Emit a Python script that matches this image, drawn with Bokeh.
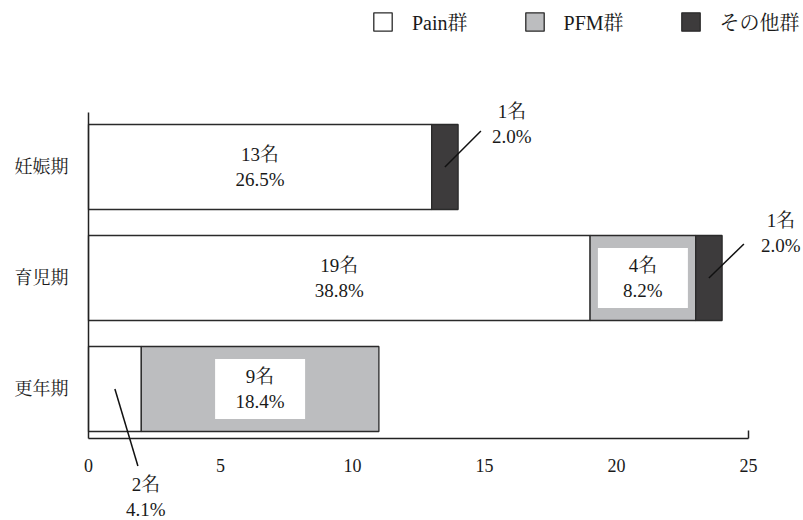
from bokeh.plotting import figure
from bokeh.models import (Range1d, FixedTicker, Legend, LegendItem, Label, Arrow,
                          ColumnDataSource)
from bokeh.core.properties import value
from bokeh.embed import file_html
from bokeh.resources import INLINE

# ---- data ----
categories = ["妊娠期", "育児期", "更年期"]
groups = ["Pain群", "PFM群", "その他群"]
pain_n = [13, 19, 2]
pfm_n = [0, 4, 9]
other_n = [1, 1, 0]
pain_pct = [26.5, 38.8, 4.1]
pfm_pct = [0.0, 8.2, 18.4]
other_pct = [2.0, 2.0, 0.0]
x_ticks = [0, 5, 10, 15, 20, 25]

# ---- style / geometry ----
FONT = "'Liberation Serif', 'Noto Serif CJK JP', 'Noto Sans CJK JP', serif"
fills = ["#ffffff", "#bcbdbf", "#3d3b3c"]
EDGE = "#2a2a2a"
W, H = 803, 520
# space (px) around the axes box; the plotting frame itself spans the whole
# canvas so that callout texts and leader lines may sit outside the axes
BL, BR, BT, BB = 88, 55, 112, 82
Y0, Y1 = -0.446, 2.491
BAR_H = 0.766

x_px = (W - BL - BR) / (x_ticks[-1] - x_ticks[0])
y_px = (H - BT - BB) / (Y1 - Y0)

x_range = Range1d(x_ticks[0] - BL / x_px, x_ticks[-1] + BR / x_px)
y_range = Range1d(Y0 - BB / y_px, Y1 + BT / y_px)

ypos = list(range(len(categories)))[::-1]  # first category on top

p = figure(width=W, height=H, output_backend="svg", toolbar_location=None,
           x_range=x_range, y_range=y_range,
           min_border_left=0, min_border_right=0,
           min_border_top=0, min_border_bottom=0)
p.outline_line_color = None
p.grid.visible = False
p.background_fill_color = "white"
p.border_fill_color = "white"

# ---- stacked bars ----
counts = [pain_n, pfm_n, other_n]
pcts = [pain_pct, pfm_pct, other_pct]
left = [0] * len(categories)
renderers = []
segments = []  # (category index, group index, left, right)
for gi, (g, vals, color) in enumerate(zip(groups, counts, fills)):
    right = [l + v for l, v in zip(left, vals)]
    keep = [i for i, v in enumerate(vals) if v > 0]
    src = ColumnDataSource(dict(y=[ypos[i] for i in keep],
                                left=[left[i] for i in keep],
                                right=[right[i] for i in keep]))
    r = p.hbar(y="y", left="left", right="right", height=BAR_H, source=src,
               fill_color=color, line_color=EDGE, line_width=1.3)
    renderers.append(r)
    for i in keep:
        segments.append((i, gi, left[i], right[i]))
    left = right

# ---- value labels ----
callouts = {  # (category, group): (line dx, line dy, text dx, text dy) in px
    ("妊娠期", "その他群"): (36, 36, 67, 43),
    ("育児期", "その他群"): (35, 34, 72, 45),
    ("更年期", "Pain群"): (23, -77, 31, -108),
}
inner_x, inner_y, inner_t = [], [], []
box_x, box_y = [], []
for ci, gi, l, r in segments:
    n = counts[gi][ci]
    txt = f"{n}名\n{pcts[gi][ci]:.1f}%"
    xc = (l + r) / 2
    yc = ypos[ci]
    key = (categories[ci], groups[gi])
    if key in callouts:
        ldx, ldy, tdx, tdy = callouts[key]
        p.add_layout(Arrow(x_start=xc, y_start=yc,
                           x_end=xc + ldx / x_px, y_end=yc + ldy / y_px,
                           end=None, line_color="#111111", line_width=1.5))
        p.add_layout(Label(x=xc, y=yc, x_offset=tdx, y_offset=tdy, text=txt,
                           text_align="center", text_baseline="middle",
                           text_font=FONT, text_font_size="19px",
                           text_color="#1a1a1a"))
    else:
        inner_x.append(xc)
        inner_y.append(yc)
        inner_t.append(txt)
        if fills[gi] != "#ffffff":
            box_x.append(xc)
            box_y.append(yc)

p.rect(x=box_x, y=box_y, width=90, height=60, width_units="screen",
       height_units="screen", fill_color="white", line_color=None)
p.text(x=inner_x, y=inner_y, text=inner_t, text_align="center",
       text_baseline="middle", text_font=value(FONT), text_font_size="19px",
       text_color="#1a1a1a")

# ---- axes (fixed inside the frame, bounded to the data box) ----
xa = p.xaxis[0]
xa.fixed_location = Y0
xa.bounds = (x_ticks[0], x_ticks[-1])
xa.ticker = FixedTicker(ticks=x_ticks, minor_ticks=[x_ticks[-1]])
xa.major_tick_line_color = None
xa.major_tick_out = 0
xa.major_tick_in = 0
xa.minor_tick_in = 8
xa.minor_tick_out = 0
xa.minor_tick_line_color = "#222222"
xa.minor_tick_line_width = 1.5
xa.axis_line_color = "#222222"
xa.axis_line_width = 1.5
xa.major_label_standoff = 20
xa.major_label_text_font = FONT
xa.major_label_text_font_size = "18px"
xa.major_label_text_color = "#1a1a1a"

ya = p.yaxis[0]
ya.fixed_location = x_ticks[0]
ya.bounds = (Y0, Y1)
ya.ticker = FixedTicker(ticks=ypos)
ya.major_label_overrides = {y: c for y, c in zip(ypos, categories)}
ya.major_tick_line_color = None
ya.minor_tick_line_color = None
ya.major_tick_out = 0
ya.major_tick_in = 0
ya.axis_line_color = "#222222"
ya.axis_line_width = 1.5
ya.major_label_standoff = 20
ya.major_label_text_font = FONT
ya.major_label_text_font_size = "18px"
ya.major_label_text_color = "#1a1a1a"

# ---- legend ----
legend = Legend(items=[LegendItem(label=g, renderers=[r]) for g, r in zip(groups, renderers)],
                orientation="horizontal", location=(371, H - 36),
                glyph_width=23, glyph_height=23, label_standoff=18, spacing=55,
                padding=0, margin=0, border_line_color=None,
                background_fill_alpha=0, label_text_font=FONT,
                label_text_font_size="20px", label_height=23,
                label_text_color="#1a1a1a", label_text_baseline="middle")
p.add_layout(legend, "center")

open("out.html", "w").write(file_html(p, INLINE))
